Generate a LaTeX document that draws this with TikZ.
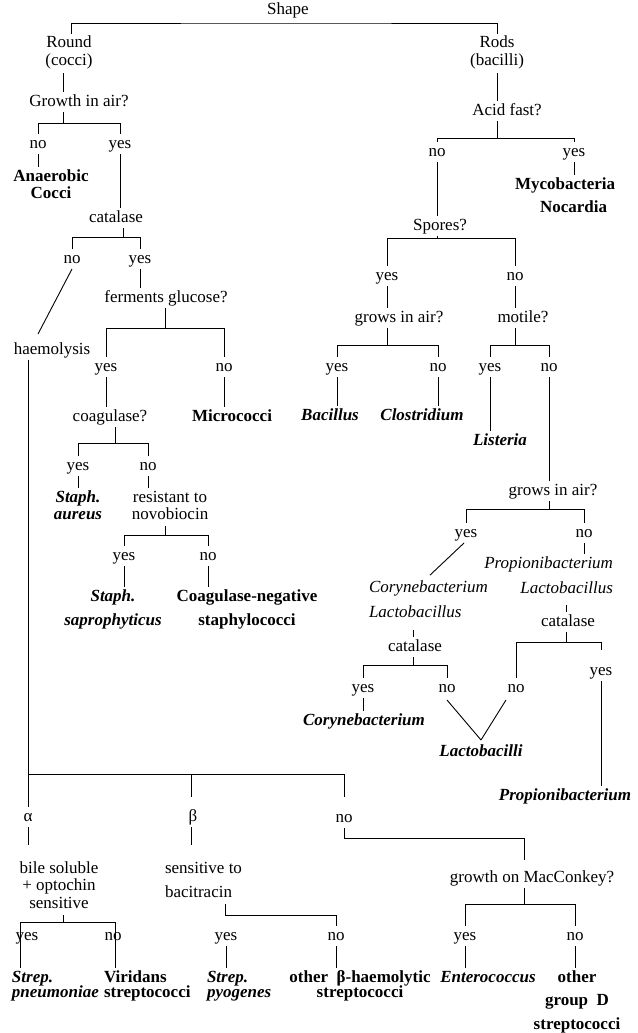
\documentclass[tikz,border=0pt]{standalone}
\usepackage{fontspec}
\setmainfont{Liberation Serif}
\newcommand\dfont{\fontsize{17}{17}\selectfont}
\newcommand\tabC[1]{\begin{tabular}[t]{@{}c@{}}#1\end{tabular}}
\newcommand\tabL[1]{\begin{tabular}[t]{@{}l@{}}#1\end{tabular}}
\newcommand\tabR[1]{\begin{tabular}[t]{@{}r@{}}#1\end{tabular}}
\begin{document}
\begin{tikzpicture}[x=1pt,y=-1pt,
  every node/.style={inner sep=0pt, outer sep=2pt, font=\dfont},
  wd/.style={text height=12pt, text depth=4pt, anchor=base},
  ml/.style={anchor=base},
  bfn/.style={font=\dfont\bfseries},
  bin/.style={font=\dfont\bfseries\itshape},
  itn/.style={font=\dfont\itshape},
  line width=0.9pt]
\fill[white] (0,0) rectangle (637,1033);
\useasboundingbox (0,0) rectangle (637,1033);

% ---------- top ----------
\node[wd] (shape) at (288,15) {Shape};
\node[ml] (round) at (69,48) {\tabC{Round\\[1pt](cocci)}};
\node[ml] (rods) at (497,48) {\tabC{Rods\\[1pt](bacilli)}};

% ---------- cocci ----------
\node[wd] (growth) at (79,106) {Growth in air?};
\node[wd] (no1) at (38,148) {no};
\node[wd] (yes1) at (120,148) {yes};
\node[ml,bfn] (anaer) at (51,181) {\tabC{Anaerobic\\Cocci}};
\node[wd] (cat1) at (116,222) {catalase};
\node[wd] (no2) at (72,263) {no};
\node[wd] (yes2) at (140,263) {yes};
\node[wd] (ferm) at (166,302) {ferments glucose?};
\node[wd] (haem) at (52,354) {haemolysis};
\node[wd] (yes3) at (106,371) {yes};
\node[wd] (no3) at (224,371) {no};
\node[wd] (coag) at (110,421) {coagulase?};
\node[wd,bfn] (micro) at (232,421) {Micrococci};
\node[wd] (yes4) at (78,470) {yes};
\node[wd] (no4) at (148,470) {no};
\node[ml,bin] (aureus) at (78,502) {\tabC{Staph.\\aureus}};
\node[ml] (resist) at (170,502) {\tabC{resistant to\\novobiocin}};
\node[wd] (yes5) at (124,560) {yes};
\node[wd] (no5) at (208,560) {no};
\node[ml,bin] (sapro) at (113,601) {\tabC{Staph.\\[7pt]saprophyticus}};
\node[ml,bfn] (coneg) at (247,601) {\tabC{Coagulase-negative\\[7pt]staphylococci}};

% ---------- bacilli ----------
\node[wd] (acid) at (507,115) {Acid fast?};
\node[wd] (no8) at (437,156) {no};
\node[wd] (yes8) at (574,156) {yes};
\node[ml,bfn,anchor=base west] (myco) at (513,189) {\tabL{Mycobacteria\\[6pt]\hspace{25pt}Nocardia}};
\node[wd] (spores) at (440,230) {Spores?};
\node[wd] (yes9) at (387,280) {yes};
\node[wd] (no9) at (515,280) {no};
\node[wd] (gia1) at (399,322) {grows in air?};
\node[wd] (motile) at (523,322) {motile?};
\node[wd] (yes10) at (337,371) {yes};
\node[wd] (no10) at (438,371) {no};
\node[wd] (yes11) at (490,371) {yes};
\node[wd] (no11) at (549,371) {no};
\node[wd,bin] (bacil) at (330,420) {Bacillus};
\node[wd,bin] (clost) at (422,420) {Clostridium};
\node[wd,bin] (list) at (500,445) {Listeria};
\node[wd] (gia2) at (553,495) {grows in air?};
\node[wd] (yes12) at (466,537) {yes};
\node[wd] (no12) at (584,537) {no};
\node[ml,itn,anchor=base west] (coryLac) at (367,592) {\tabL{Corynebacterium\\[8pt]Lactobacillus}};
\node[ml,itn,anchor=base east] (propLac) at (615,568) {\tabR{Propionibacterium\\[8pt]Lactobacillus}};
\node[wd] (cat2) at (415,651) {catalase};
\node[wd] (cat3) at (568,626) {catalase};
\node[wd] (yes13) at (363,692) {yes};
\node[wd] (no13) at (447,692) {no};
\node[wd] (no14) at (516,692) {no};
\node[wd] (yes14) at (601,675) {yes};
\node[wd,bin] (cory2) at (364,725) {Corynebacterium};
\node[wd,bin] (lactob) at (481,756) {Lactobacilli};
\node[wd,bin] (prop) at (565,800) {Propionibacterium};

% ---------- haemolysis ----------
\node[wd] (alpha) at (28,821) {α};
\node[wd] (beta) at (193,821) {β};
\node[wd] (no6) at (344,822) {no};
\node[ml] (bile) at (59,873) {\tabC{bile soluble\\[0.5pt]+ optochin\\[0.5pt]sensitive}};
\node[ml,anchor=base west] (sens) at (163,873) {\tabL{sensitive to\\[7pt]bacitracin}};
\node[wd] (mac) at (532,882) {growth on MacConkey?};
\node[wd] (yes7) at (27,940) {yes};
\node[wd] (no7) at (113,940) {no};
\node[wd] (yes16) at (226,940) {yes};
\node[wd] (no16) at (336,940) {no};
\node[wd] (yes15) at (465,940) {yes};
\node[wd] (no15) at (575,940) {no};
\node[ml,bin,anchor=base west] (pneu) at (10,982) {\tabL{Strep.\\[-2pt]pneumoniae}};
\node[ml,bfn,anchor=base west] (virid) at (102,982) {\tabL{Viridans\\[-2pt]streptococci}};
\node[ml,bin,anchor=base west] (pyog) at (205,982) {\tabL{Strep.\\[-2pt]pyogenes}};
\node[ml,bfn] (othb) at (360,982) {\tabC{other\ \ β-haemolytic\\[-2pt]streptococci}};
\node[wd,bin] (entero) at (488,982) {Enterococcus};
\node[ml,bfn] (other3) at (577,982) {\tabC{other\\[6pt]group\ \ D\\[7pt]streptococci}};

% ---------- connectors: top ----------
\draw ([xshift=2]round.north) |- ([yshift=-2]shape.south) -| (rods.north);

% cocci
\draw ([xshift=-6]round.south) -- ([xshift=-16]growth.north);
\draw ([xshift=-16]growth.south) -- ++(0,11) coordinate (j1) -| (no1.north) (j1) -| (yes1.north);
\draw (no1.south) -- (no1.south |- anaer.north);
\draw (yes1.south) -- (yes1.south |- cat1.north);
\draw ([xshift=7]cat1.south) -- ++(0,9) coordinate (j2) -| (no2.north) (j2) -| (yes2.north);
\draw (no2.south) -- ([xshift=-14,yshift=6]haem.north);
\draw (yes2.south) -- (yes2.south |- ferm.north);
\draw ([xshift=-1]ferm.south) -- ++(0,20) coordinate (j3) -| (yes3.north) (j3) -| (no3.north);
\draw (yes3.south) -- (yes3.south |- coag.north);
\draw (no3.south) -- (no3.south |- micro.north);
\draw ([xshift=5]coag.south) -- ++(0,16) coordinate (j4) -| (yes4.north) (j4) -| (no4.north);
\draw (yes4.south) -- (yes4.south |- aureus.north);
\draw (no4.south) -- (no4.south |- resist.north);
\draw ([xshift=-5]resist.south) -- ++(0,9) coordinate (j5) -| (yes5.north) (j5) -| (no5.north);
\draw (yes5.south) -- (yes5.south |- sapro.north);
\draw (no5.south) -- (no5.south |- coneg.north);

% haemolysis
\draw ([xshift=-24]haem.south) -- (alpha.north);
\coordinate (hb) at (28,774);
\draw (hb) -| ([xshift=-2,yshift=10]beta.north);
\draw (hb) -| ([yshift=11]no6.north);
\draw (alpha.south) -- ++(0,18);
\draw ([xshift=-2]beta.south) -- ++(0,18);
\draw ([xshift=4]bile.south) -- ++(0,7) coordinate (j7) -| ([xshift=10]pneu.north west) (j7) -| ([xshift=13]virid.north west);
\draw ([xshift=62]sens.south west) -- ++(0,11) -| (no16.north);
\draw (yes16.south) -- (yes16.south |- pyog.north);
\draw (no16.south) -- (no16.south |- othb.north);
\draw (no6.south) -- ++(0,10) -| ([xshift=-8,yshift=8]mac.north);
\draw ([xshift=-8]mac.south) -- ++(0,16) coordinate (j8) -| (yes15.north) (j8) -| (no15.north);
\draw (yes15.south) -- (yes15.south |- entero.north);
\draw (no15.south) -- (no15.south |- other3.north);

% bacilli
\draw (rods.south) -- (rods.south |- acid.north);
\draw ([xshift=-10]acid.south) -- ++(0,17) coordinate (j9) -| (no8.north) (j9) -| (yes8.north);
\draw (no8.south) -- (no8.south |- spores.north);
\draw (yes8.south) -- (yes8.south |- myco.north);
\draw ([xshift=-3]spores.south) -- ++(0,2) coordinate (j10) -| (yes9.north) (j10) -| (no9.north);
\draw (yes9.south) -- (yes9.south |- gia1.north);
\draw (no9.south) -- (no9.south |- motile.north);
\draw ([xshift=-12]gia1.south) -- ++(0,17) coordinate (j11) -| (yes10.north) (j11) -| (no10.north);
\draw ([xshift=-8]motile.south) -- ++(0,17) coordinate (j12) -| (yes11.north) (j12) -| (no11.north);
\draw (yes10.south) -- (yes10.south |- bacil.north);
\draw (no10.south) -- (no10.south |- clost.north);
\draw (yes11.south) -- (yes11.south |- list.north);
\draw (no11.south) -- (no11.south |- gia2.north);
\draw ([xshift=-4]gia2.south) -- ++(0,8) coordinate (j13) -| (yes12.north) (j13) -| (no12.north);
\draw ([xshift=-2]yes12.south) -- ([xshift=63,yshift=3]coryLac.north west);
\draw (no12.south) -- (no12.south |- propLac.north);
\draw ([xshift=-2]cat2.north) -- ++(0,-7);
\draw ([xshift=-2]cat2.south) -- ++(0,8) coordinate (j14) -| (yes13.north) (j14) -| (no13.north);
\draw (yes13.south) -- (yes13.south |- cory2.north);
\draw ([yshift=-2]no13.south) -- ([yshift=2]lactob.north);
\draw ([xshift=-2]cat3.north) -- ++(0,-7);
\draw ([xshift=-2]cat3.south) -- ++(0,10) coordinate (j15) -| (no14.north) (j15) -| ([yshift=11]yes14.north);
\draw ([xshift=-10,yshift=-2]no14.south) -- ([yshift=2]lactob.north);
\draw (yes14.south) -- (yes14.south |- prop.north);
\end{tikzpicture}
\end{document}
